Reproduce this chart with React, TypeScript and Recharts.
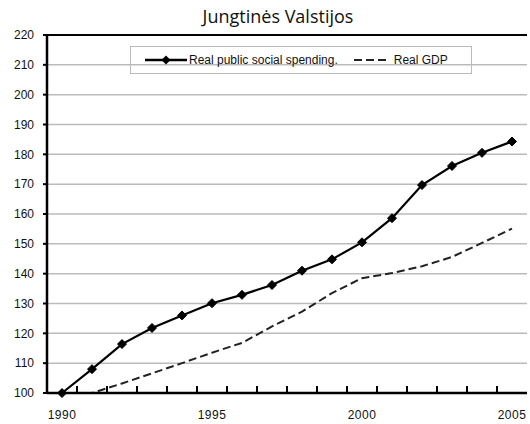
import { LineChart, Line, XAxis, YAxis, CartesianGrid, ReferenceLine } from 'recharts';

const years = ['1990', '1991', '1992', '1993', '1994', '1995', '1996', '1997', '1998', '1999', '2000', '2001', '2002', '2003', '2004', '2005'];
const socialSpending = [100, 108, 116.4, 121.8, 126, 130.1, 132.9, 136.2, 141, 144.8, 150.5, 158.6, 169.7, 176.1, 180.5, 184.3];
const realGdp = [100, 100, 103.2, 106.6, 110, 113.5, 116.8, 122.3, 127.3, 133.5, 138.5, 140.2, 142.5, 145.6, 150.3, 155.1];
const yTicks = [100, 110, 120, 130, 140, 150, 160, 170, 180, 190, 200, 210, 220];
const seriesNames = ['Real public social spending.', 'Real GDP'];

const data = years.map((year, i) => ({
    year,
    social: socialSpending[i],
    gdp: realGdp[i]
}));

const BAND = 30;
const tickFont = '"Liberation Sans", Arial, sans-serif';

interface tickProps {
    x: number,
    y: number,
    index: number,
    payload: { value: string, coordinate: number }
}

// Excel style: small marks between the categories, a label every 5 years
const XTick = (props: tickProps) => {
    const { x, y, index, payload } = props;
    const edge = Number(x) - BAND / 2;
    const base = Number(y);
    return (
        <g key={`xt-${index}`}>
            {index > 0 && <rect x={edge - 1} y={base - 7} width={2} height={6} fill="#000" />}
            {index % 5 === 0 && (
                <text x={x} y={base + 26} textAnchor="middle" fontSize={12} fontFamily={tickFont} fill="#111" letterSpacing={0.5}>
                    {payload.value}
                </text>
            )}
        </g>
    );
};

interface dotProps {
    cx?: number,
    cy?: number,
    index?: number
}

const Diamond = ({ cx, cy, index }: dotProps) => {
    if (cx == null || cy == null) return <g key={`d-${index}`} />;
    const r = 4.5;
    return (
        <polygon
            key={`d-${index}`}
            points={`${cx},${cy - r} ${cx + r},${cy} ${cx},${cy + r} ${cx - r},${cy}`}
            fill="#000"
            stroke="#000"
        />
    );
};

export default function App() {
    return (
        <div style={{ position: 'absolute', left: 0, top: 0, width: 530, height: 424, background: '#fff' }}>
            <div style={{
                position: 'absolute', left: 0, width: 556, top: 4, textAlign: 'center',
                fontFamily: '"Open Sans", sans-serif', fontSize: 18, color: '#111'
            }}>
                Jungtinės Valstijos
            </div>
            <LineChart width={530} height={424} data={data} margin={{ top: 35, right: 3, bottom: 1, left: 0 }}>
                <CartesianGrid vertical={false} stroke="#bbb" strokeWidth={1.5} />
                <YAxis
                    domain={[100, 220]}
                    ticks={yTicks}
                    width={47}
                    interval={0}
                    tickSize={4}
                    tickMargin={9}
                    tickLine={{ stroke: '#000', strokeWidth: 2 }}
                    axisLine={{ stroke: '#000', strokeWidth: 2.5 }}
                    tick={{ fontSize: 12, fontFamily: tickFont, fill: '#111' }}
                />
                <YAxis yAxisId="right" orientation="right" width={0} tick={false} tickLine={false}
                    axisLine={{ stroke: '#000', strokeWidth: 2 }} />
                <ReferenceLine y={220} stroke="#000" strokeWidth={2} />
                <Line
                    dataKey="gdp"
                    name={seriesNames[1]}
                    stroke="#222"
                    strokeWidth={2}
                    strokeDasharray="8 4"
                    dot={false}
                    isAnimationActive={false}
                />
                <Line
                    dataKey="social"
                    name={seriesNames[0]}
                    stroke="#000"
                    strokeWidth={2.2}
                    dot={Diamond}
                    isAnimationActive={false}
                />
                <XAxis
                    dataKey="year"
                    height={30}
                    interval={0}
                    padding={{ left: BAND / 2, right: BAND / 2 }}
                    tickLine={false}
                    tickSize={0}
                    tickMargin={0}
                    tick={XTick}
                    axisLine={{ stroke: '#000', strokeWidth: 2.5 }}
                />
            </LineChart>
            <div style={{
                position: 'absolute', left: 130, top: 46, width: 340, height: 26,
                border: '1.5px solid #bbb', display: 'flex', alignItems: 'center',
                fontFamily: tickFont, fontSize: 12, color: '#111'
            }}>
                <svg width={42} height={12} style={{ marginLeft: 14 }}>
                    <line x1={0} x2={42} y1={6} y2={6} stroke="#000" strokeWidth={2.5} />
                    <polygon points="21,1.5 25.5,6 21,10.5 16.5,6" fill="#000" />
                </svg>
                <span style={{ marginLeft: 2 }}>{seriesNames[0]}</span>
                <svg width={36} height={12} style={{ marginLeft: 16 }}>
                    <line x1={0} x2={36} y1={6} y2={6} stroke="#222" strokeWidth={2} strokeDasharray="8 4" />
                </svg>
                <span style={{ marginLeft: 4 }}>{seriesNames[1]}</span>
            </div>
        </div>
    );
}
